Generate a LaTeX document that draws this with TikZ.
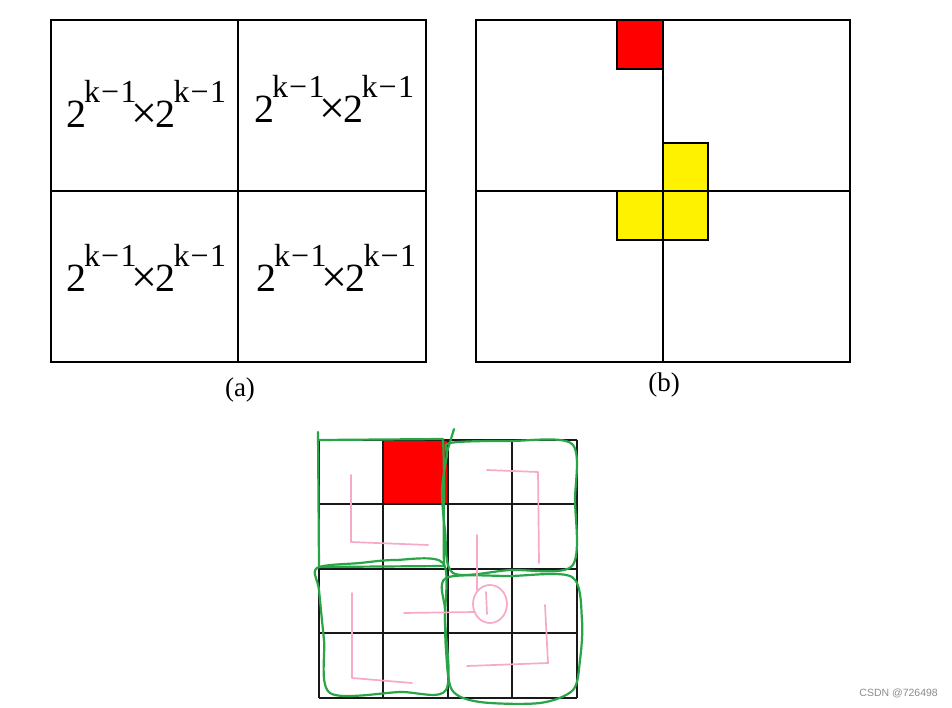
\documentclass[tikz,border=0pt]{standalone}
\usepackage{fontspec}
\setmainfont{Liberation Serif}
\newfontfamily\wmfont{Liberation Sans}
\newcommand{\supkm}{\raisebox{25pt}{\fontsize{32}{32}\selectfont k\kern1pt−\kern1.5pt1}}
\newcommand{\pwtxt}{{\fontsize{40}{40}\selectfont 2}\kern-2pt\supkm\kern-5pt\raisebox{-1pt}{\fontsize{46}{46}\selectfont ×}\kern-2pt{\fontsize{40}{40}\selectfont 2}\kern-2pt\supkm}
\definecolor{hgreen}{RGB}{40,165,70}
\definecolor{hpink}{RGB}{248,168,200}
\begin{document}
\begin{tikzpicture}[x=1pt,y=-1pt,
  frame/.style={line width=1.6pt,draw=black},
  gridln/.style={line width=2pt,draw=black!90},
  cellfill/.style={line width=1.6pt,draw=black},
  greenln/.style={line width=2.2pt,draw=hgreen,line cap=round,line join=round},
  pinkln/.style={line width=1.7pt,draw=hpink,line cap=round,line join=round},
  powtxt/.style={inner sep=0pt,anchor=base west},
  caption/.style={font=\fontsize{27}{29}\selectfont,inner sep=0pt},
  wm/.style={font=\wmfont\fontsize{10.5}{12}\selectfont,text=black!45,inner sep=0pt}]
\useasboundingbox (0,0) rectangle (952,708);
\fill[white] (0,0) rectangle (952,708);
% (a)
\draw[frame] (51,20) rectangle (426,362);
\draw[frame] (238,20) -- (238,362);
\draw[frame] (51,191) -- (426,191);
\node[powtxt] (a1) at (66,128) {\pwtxt};
\node[powtxt] (a2) at (254,123) {\pwtxt};
\node[powtxt] (a3) at (66,292) {\pwtxt};
\node[powtxt] (a4) at (256,292) {\pwtxt};
\node[caption] (capa) at (240,390) {(a)};
% (b)
\draw[cellfill,fill=red] (617,20) rectangle (663,69);
\draw[cellfill,fill=yellow] (663,143) rectangle (708,191);
\draw[cellfill,fill=yellow] (617,191) rectangle (663,240);
\draw[cellfill,fill=yellow] (663,191) rectangle (708,240);
\draw[frame] (476,20) rectangle (850,362);
\draw[frame] (663,20) -- (663,362);
\draw[frame] (476,191) -- (850,191);
\node[caption] (capb) at (664,385) {(b)};
% bottom grid
\fill[red] (383,440) rectangle (448,504);
\foreach \g in {319,383,448,512,577} \draw[gridln] (\g,440) -- (\g,698);
\foreach \g in {440,504,569,633,698} \draw[gridln] (319,\g) -- (577,\g);
% green hand-drawn outlines
\draw[greenln] (318,432) -- (319,567);
\draw[greenln] (319,440) -- (443,439) .. controls (445,480) and (443,530) .. (444,566) -- (319,567);
\draw[greenln] (454,429) -- (447,452);
\draw[greenln] plot[smooth cycle,tension=0.5] coordinates {(450,443) (510,441) (572,444) (575,500) (572,566) (510,570) (453,573) (445,530) (442,490) (447,455)};
\draw[greenln] plot[smooth cycle,tension=0.5] coordinates {(317,568) (360,563) (395,560) (443,563) (445,620) (446,690) (400,692) (330,693) (324,640) (319,590)};
\draw[greenln] plot[smooth cycle,tension=0.5] coordinates {(446,578) (510,576) (572,577) (582,620) (580,660) (573,690) (540,703) (480,702) (452,690) (446,650) (445,610)};
% pink strokes
\draw[pinkln] (351,475) -- (351,542) -- (428,545);
\draw[pinkln] (487,470) -- (538,472) -- (539,563);
\draw[pinkln] (477,535) -- (477,590);
\draw[pinkln] (490,604) ellipse (17 and 19);
\draw[pinkln] (486,592) -- (487,614);
\draw[pinkln] (475,612) -- (404,613);
\draw[pinkln] (352,593) -- (352,678) -- (412,683);
\draw[pinkln] (545,605) -- (548,663) -- (467,666);
% watermark
\node[wm,anchor=east] (wmk) at (938,693) {CSDN @726498};
\end{tikzpicture}
\end{document}
